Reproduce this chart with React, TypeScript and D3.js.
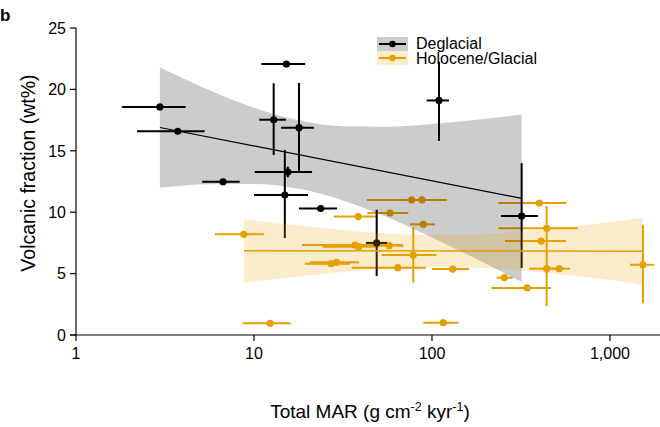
import React from "react";
import * as d3 from "d3";

// ---- Data ----
// Deglacial (black)
const degX = [2.96, 3.73, 6.7, 15.2, 12.9, 17.9, 15.5, 14.9, 23.7, 48.9, 109.5, 319];
const degY = [18.57, 16.59, 12.48, 22.07, 17.53, 16.88, 13.27, 11.4, 10.3, 7.5, 19.1, 9.69];
const degXLo = [1.81, 2.2, 5.12, 11.0, 10.7, 14.2, 10.1, 10.0, 17.9, 42.6, 93.4, 244];
const degXHi = [4.13, 5.28, 8.31, 19.4, 15.1, 21.7, 21.2, 20.1, 29.3, 55.9, 124.6, 393];
const degYLo = [null, null, null, null, 14.66, 13.27, 12.85, 7.9, null, 4.8, 15.8, 5.46];
const degYHi = [null, null, null, null, 20.5, 20.52, 13.7, 15.07, null, 10.2, 22.25, 14.0];

// Holocene/Glacial (orange)
const holX = [8.75, 12.35, 76.9, 87.9, 58.1, 38.5, 89.4, 36.9, 38.7, 57.6, 78.5, 27.1, 29.1, 64.2, 115.8, 130.7, 401, 441, 410, 441, 519, 255, 343, 1532];
const holY = [8.2, 0.95, 11.0, 11.0, 9.93, 9.64, 9.01, 7.33, 7.19, 7.27, 6.51, 5.81, 5.92, 5.48, 1.0, 5.37, 10.75, 8.69, 7.65, 5.4, 5.4, 4.67, 3.83, 5.72];
const holXLo = [6.04, 8.64, 43.1, 56.6, 43.3, 28.1, 75.2, 18.6, 24.3, 47.9, 52.2, 19.3, 20.6, 35.4, 89.4, 99.6, 236, 236, 257, 352, 420, 231, 216, 1295];
const holXHi = [11.4, 16.1, 101, 121, 73.6, 48.9, 104, 68.7, 50, 69, 106, 34.6, 39, 92.5, 140.7, 161.5, 570, 658, 564, 519, 596, 284, 468, 1767];
const holYLo = [null, null, null, null, null, null, null, null, null, null, 4.26, null, null, null, null, null, null, 2.36, null, null, null, null, null, 2.58];
const holYHi = [null, null, null, null, null, null, null, null, null, null, 8.77, null, null, null, null, null, null, 10.5, null, null, null, null, null, 8.96];

// Regression fits and confidence bands
const degFitX = [2.96, 319];
const degFitY = [16.9, 11.13];
const degBandX = [2.96, 5.62, 10, 17.8, 31.6, 56.2, 100, 178, 319];
const degBandHi = [21.8, 19.94, 18.51, 17.48, 17.0, 16.96, 17.18, 17.52, 17.95];
const degBandLo = [12.0, 12.28, 12.29, 11.9, 10.96, 9.58, 7.94, 6.18, 4.31];

const holFitX = [8.79, 1531];
const holFitY = [6.86, 6.82];
const holBandX = [8.79, 17.8, 31.6, 56.2, 100, 178, 316, 562, 1000, 1531];
const holBandHi = [9.42, 8.91, 8.55, 8.27, 8.14, 8.2, 8.43, 8.77, 9.2, 9.55];
const holBandLo = [4.26, 4.77, 5.13, 5.41, 5.54, 5.48, 5.25, 4.91, 4.48, 4.1];

const xTicks = [1, 10, 100, 1000];
const xTickLabels = ["1", "10", "100", "1,000"];
const yTicks = [0, 5, 10, 15, 20, 25];

const seriesNames = ["Deglacial", "Holocene/Glacial"];

const ORANGE = "#E69F00";
const FONT = "'Liberation Sans', Arial, Helvetica, sans-serif";

export default function App() {
  const W = 660, H = 427;
  const x = d3.scaleLog().domain([1, 1910]).range([76, 660]);
  const y = d3.scaleLinear().domain([0, 25]).range([335, 28]);

  const degBand = d3
    .area<number>()
    .x((_, i) => x(degBandX[i]))
    .y0((_, i) => y(degBandLo[i]))
    .y1((_, i) => y(degBandHi[i]))
    .curve(d3.curveMonotoneX)(degBandX);
  const holBand = d3
    .area<number>()
    .x((_, i) => x(holBandX[i]))
    .y0((_, i) => y(holBandLo[i]))
    .y1((_, i) => y(holBandHi[i]))
    .curve(d3.curveMonotoneX)(holBandX);

  const line = d3.line<[number, number]>();
  const degFit = line(degFitX.map((v, i) => [x(v), y(degFitY[i])] as [number, number]));
  const holFit = line(holFitX.map((v, i) => [x(v), y(holFitY[i])] as [number, number]));

  const renderPoints = (
    xs: number[], ys: number[], xlo: number[], xhi: number[],
    ylo: (number | null)[], yhi: (number | null)[], color: string
  ) =>
    xs.map((xv, i) => (
      <g key={i}>
        <line x1={x(xlo[i])} x2={x(xhi[i])} y1={y(ys[i])} y2={y(ys[i])} stroke={color} strokeWidth={2} />
        {ylo[i] != null && (
          <line x1={x(xv)} x2={x(xv)} y1={y(ylo[i] as number)} y2={y(yhi[i] as number)} stroke={color} strokeWidth={2} />
        )}
        <circle cx={x(xv)} cy={y(ys[i])} r={3.6} fill={color} />
      </g>
    ));

  return (
    <svg width={W} height={H} style={{ position: "absolute", left: 0, top: 0, background: "#fff" }} fontFamily={FONT}>
      <text x={0} y={21} fontSize={17} fontWeight="bold">b</text>

      {/* legend */}
      <rect x={377} y={37} width={31} height={14} fill="#000" fillOpacity={0.2} />
      <rect x={377} y={51} width={31} height={14} fill={ORANGE} fillOpacity={0.2} />
      <line x1={379} x2={406} y1={44} y2={44} stroke="#000" strokeWidth={2} />
      <circle cx={392.5} cy={44} r={3.3} fill="#000" />
      <line x1={379} x2={406} y1={58} y2={58} stroke={ORANGE} strokeWidth={2} />
      <circle cx={392.5} cy={58} r={3.3} fill={ORANGE} />
      <text x={416} y={49} fontSize={16}>{seriesNames[0]}</text>
      <text x={416} y={63.5} fontSize={16}>{seriesNames[1]}</text>

      {/* points */}
      {renderPoints(holX, holY, holXLo, holXHi, holYLo, holYHi, ORANGE)}
      {renderPoints(degX, degY, degXLo, degXHi, degYLo, degYHi, "#000")}

      {/* bands */}
      <path d={degBand || ""} fill="#000" fillOpacity={0.2} />
      <path d={holBand || ""} fill={ORANGE} fillOpacity={0.2} />

      {/* fits */}
      <path d={degFit || ""} stroke="#000" strokeWidth={1.2} fill="none" />
      <path d={holFit || ""} stroke={ORANGE} strokeWidth={1.5} fill="none" />

      {/* axes */}
      <line x1={70} x2={660} y1={335} y2={335} stroke="#000" strokeWidth={1.2} />
      <line x1={76} x2={76} y1={28} y2={335} stroke="#000" strokeWidth={1.2} />
      {yTicks.map((t) => (
        <g key={t}>
          <line x1={70} x2={76} y1={y(t)} y2={y(t)} stroke="#000" strokeWidth={1.2} />
          <text x={66} y={y(t)} dy="0.36em" textAnchor="end" fontSize={16}>{t}</text>
        </g>
      ))}
      {xTicks.map((t, i) => (
        <g key={t}>
          <line x1={x(t)} x2={x(t)} y1={335} y2={341} stroke="#000" strokeWidth={1.2} />
          <text x={x(t)} y={359} textAnchor="middle" fontSize={16}>{xTickLabels[i]}</text>
        </g>
      ))}

      <text transform="translate(35,173) rotate(-90)" textAnchor="middle" fontSize={19.5}>Volcanic fraction (wt%)</text>
      <text x={370} y={418} textAnchor="middle" fontSize={19}>
        Total MAR (g cm<tspan dy={-7} fontSize={12.5}>-2</tspan><tspan dy={7}> kyr</tspan><tspan dy={-7} fontSize={12.5}>-1</tspan><tspan dy={7}>)</tspan>
      </text>
    </svg>
  );
}
